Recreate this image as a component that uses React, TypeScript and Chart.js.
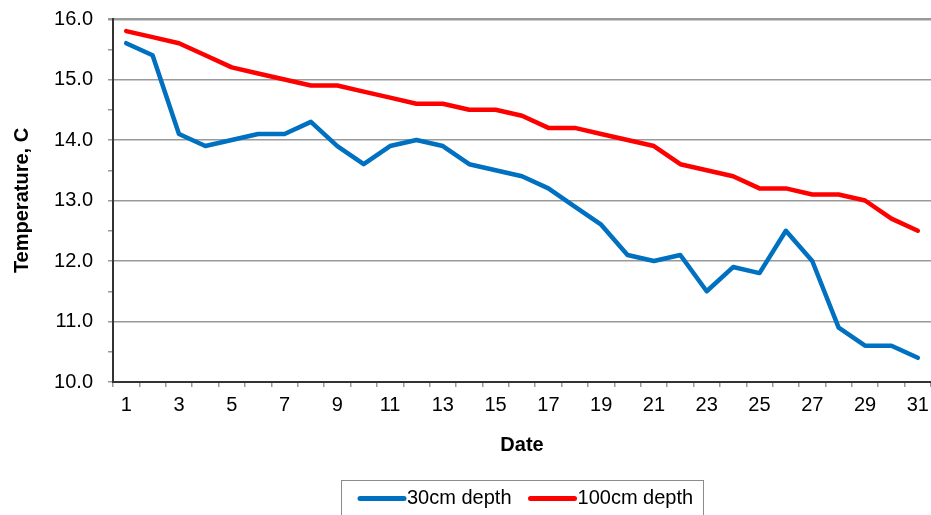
import React, { useEffect, useRef } from "react";
import { Chart, registerables } from "chart.js";

Chart.register(...registerables);

const dates: string[] = Array.from({ length: 31 }, (_, i) => String(i + 1));

const depth30: number[] = [
  15.6, 15.4, 14.1, 13.9, 14.0, 14.1, 14.1, 14.3, 13.9, 13.6,
  13.9, 14.0, 13.9, 13.6, 13.5, 13.4, 13.2, 12.9, 12.6, 12.1,
  12.0, 12.1, 11.5, 11.9, 11.8, 12.5, 12.0, 10.9, 10.6, 10.6, 10.4,
];

const depth100: number[] = [
  15.8, 15.7, 15.6, 15.4, 15.2, 15.1, 15.0, 14.9, 14.9, 14.8,
  14.7, 14.6, 14.6, 14.5, 14.5, 14.4, 14.2, 14.2, 14.1, 14.0,
  13.9, 13.6, 13.5, 13.4, 13.2, 13.2, 13.1, 13.1, 13.0, 12.7, 12.5,
];

const seriesNames: string[] = ["30cm depth", "100cm depth"];
const seriesColors: string[] = ["#0070C0", "#FF0000"];

const FONT = "'Liberation Sans', Arial, sans-serif";

const boxedLegend = {
  id: "boxedLegend",
  afterDraw(chart: any) {
    const ctx = chart.ctx;
    ctx.save();
    ctx.strokeStyle = "#8c8c8c";
    ctx.lineWidth = 1;
    ctx.strokeRect(341.5, 480.5, 362, 50);
    ctx.font = `20px ${FONT}`;
    ctx.textBaseline = "middle";
    ctx.textAlign = "left";
    const y = 498.5;
    let x = 358;
    chart.data.datasets.forEach((ds: any) => {
      ctx.strokeStyle = ds.borderColor;
      ctx.lineWidth = 5;
      ctx.lineCap = "round";
      ctx.beginPath();
      ctx.moveTo(x + 2, y);
      ctx.lineTo(x + 46, y);
      ctx.stroke();
      ctx.fillStyle = "#000";
      ctx.fillText(ds.label, x + 49, y);
      x = x + 49 + ctx.measureText(ds.label).width + 17;
    });
    ctx.restore();
  },
};

export default function App() {
  const ref = useRef<HTMLCanvasElement | null>(null);

  useEffect(() => {
    if (!ref.current) return;
    const chart = new Chart(ref.current, {
      type: "line",
      data: {
        labels: dates,
        datasets: [
          {
            label: seriesNames[0],
            data: depth30,
            borderColor: seriesColors[0],
            backgroundColor: seriesColors[0],
            borderWidth: 4.5,
            pointRadius: 0,
            tension: 0,
            borderJoinStyle: "round",
            borderCapStyle: "round",
          },
          {
            label: seriesNames[1],
            data: depth100,
            borderColor: seriesColors[1],
            backgroundColor: seriesColors[1],
            borderWidth: 4.5,
            pointRadius: 0,
            tension: 0,
            borderJoinStyle: "round",
            borderCapStyle: "round",
          },
        ],
      },
      options: {
        responsive: false,
        animation: false,
        layout: { padding: { top: 19, left: 0, right: 0, bottom: 58 } },
        plugins: {
          legend: { display: false },
          tooltip: { enabled: false },
        },
        scales: {
          x: {
            type: "category",
            offset: true,
            afterFit: (scale: any) => {
              scale.height = 75;
              scale.paddingLeft = 0;
              scale.paddingRight = 0;
            },
            grid: {
              offset: true,
              drawOnChartArea: false,
              drawTicks: true,
              tickLength: 5,
              tickColor: "#999",
              color: "#999",
              lineWidth: 1.5,
            },
            border: { display: true, color: "#333", width: 2 },
            ticks: {
              autoSkip: false,
              maxRotation: 0,
              padding: 6,
              color: "#000",
              font: { family: FONT, size: 20 },
              callback: (_v: any, i: number) => (i % 2 === 0 ? dates[i] : ""),
            },
            title: {
              display: true,
              text: "Date",
              color: "#000",
              font: { family: FONT, size: 20, weight: "bold" },
              padding: { top: 0, bottom: 0 },
            },
          },
          y: {
            min: 10,
            max: 16,
            afterFit: (scale: any) => {
              scale.width = 113;
              scale.paddingTop = 0;
              scale.paddingBottom = 0;
            },
            grid: {
              drawTicks: true,
              tickLength: 5,
              tickColor: "#999",
              color: (c: any) => {
                const v = c.tick ? c.tick.value : 0;
                if (v === 10) return "rgba(0,0,0,0)";
                return Math.abs(v - Math.round(v)) < 1e-6 ? "#999" : "rgba(0,0,0,0)";
              },
              lineWidth: (c: any) => (c.tick && c.tick.value === 16 ? 2.5 : 1.5),
            },
            border: { display: true, color: "#333", width: 2 },
            ticks: {
              stepSize: 0.5,
              padding: 15,
              color: "#000",
              font: { family: FONT, size: 20 },
              callback: (v: any) => {
                const n = Number(v);
                return Math.abs(n - Math.round(n)) < 1e-6 ? n.toFixed(1) : "";
              },
            },
            title: {
              display: true,
              text: "Temperature, C",
              color: "#000",
              font: { family: FONT, size: 20, weight: "bold" },
              padding: { top: 10, bottom: 0 },
            },
          },
        },
      },
      plugins: [boxedLegend],
    });
    return () => chart.destroy();
  }, []);

  return (
    <div style={{ position: "absolute", left: 0, top: 0, width: 931, height: 515, background: "#fff" }}>
      <canvas ref={ref} width={931} height={515} />
    </div>
  );
}
